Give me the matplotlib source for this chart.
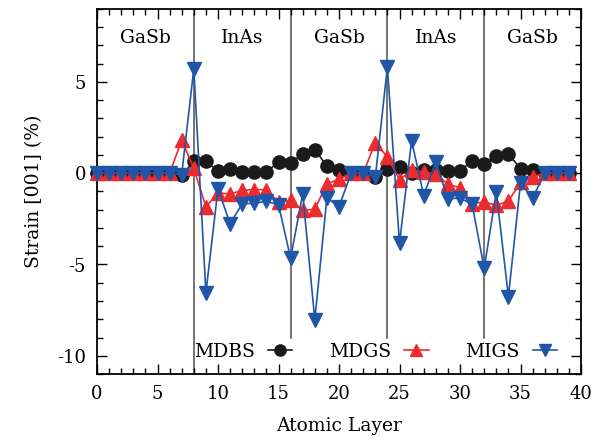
import matplotlib
matplotlib.use("Agg")
import matplotlib.pyplot as plt
from matplotlib.ticker import MultipleLocator

layers = list(range(40))
mdbs = [0, 0, 0, 0, 0, 0, 0, -0.12, 0.66, 0.66,
        0.13, 0.26, 0.07, 0.07, 0.07, 0.62, 0.56, 1.07, 1.29, 0.4,
        0.2, 0.02, 0.0, -0.23, 0.24, 0.35, 0.04, 0.16, 0.2, 0.14,
        0.13, 0.69, 0.51, 0.93, 1.05, 0.26, 0.2, 0, 0, 0]
mdgs = [0, 0, 0, 0, 0, 0, 0, 1.8, 0.28, -1.85,
        -1.06, -1.15, -0.93, -0.9, -0.9, -1.6, -1.47, -2.04, -1.97, -0.58,
        -0.33, 0.0, 0.0, 1.68, 0.89, -0.35, 0.16, 0.07, -0.05, -0.6,
        -0.8, -1.66, -1.58, -1.75, -1.53, -0.5, -0.2, 0, 0, 0]
migs = [0, 0, 0, 0, 0, 0, 0, -0.07, 5.72, -6.55,
        -0.85, -2.76, -1.68, -1.64, -1.54, -1.72, -4.66, -1.11, -8.03, -1.35,
        -1.84, 0.0, 0.0, -0.23, 5.83, -3.84, 1.79, -1.22, 0.62, -1.4,
        -1.36, -1.7, -5.21, -1.02, -6.76, -0.55, -1.35, 0, 0, 0]

interfaces = [8, 16, 24, 32]
regions = ["GaSb", "InAs", "GaSb", "InAs", "GaSb"]
region_centers = [4, 12, 20, 28, 36]

plt.rcParams['font.family'] = ['DejaVu Serif']
plt.rcParams['axes.unicode_minus'] = False
fig = plt.figure(figsize=(5.97, 4.48), dpi=100)
ax = fig.add_axes([97/597, 1 - 374/448, (581 - 97)/597, (374 - 9)/448])

black = '#1a1a1a'
red = '#ec2b2e'
blue = '#1f56a8'

for i, xv in enumerate(interfaces):
    if i == 0:
        ax.axvline(xv, color='#4d4d4d', lw=1.1, zorder=1)
    else:
        ax.plot([xv, xv], [9, -9], color='#4d4d4d', lw=1.1, zorder=1)

ax.plot(layers, mdbs, '-o', color=black, ms=9.5, lw=1.2, label='MDBS', clip_on=False, zorder=3)
ax.plot(layers, mdgs, '-^', color=red, ms=9.5, lw=1.2, label='MDGS', clip_on=False, zorder=4)
ax.plot(layers, migs, '-v', color=blue, ms=9.5, lw=1.2, label='MIGS', clip_on=False, zorder=5)

for name, c in zip(regions, region_centers):
    ax.text(c, 7.42, name, ha='center', va='center', fontsize=13.5)

ax.set_xlim(0, 40)
ax.set_ylim(-11, 9)
ax.xaxis.set_major_locator(MultipleLocator(5))
ax.xaxis.set_minor_locator(MultipleLocator(1))
ax.yaxis.set_major_locator(MultipleLocator(5))
ax.yaxis.set_minor_locator(MultipleLocator(1))
ax.tick_params(which='both', direction='in', top=True, right=True, labelsize=13, width=1.0)
ax.tick_params(which='major', length=7, pad=8)
ax.tick_params(which='minor', length=4)
for s in ax.spines.values():
    s.set_linewidth(1.3)

ax.set_xlabel('Atomic Layer', fontsize=13.5, labelpad=10)
ax.set_ylabel('Strain [001] (%)', fontsize=13.5, labelpad=10)

leg = ax.legend(ncol=3, markerfirst=False, frameon=False, fontsize=13.5,
                loc='center right', bbox_to_anchor=((557 - 97) / 484, 22 / 365),
                handlelength=1.3, handletextpad=0.7, columnspacing=1.95,
                borderaxespad=0, borderpad=0, markerscale=0.85)

fig.savefig('out.png', dpi=100)
